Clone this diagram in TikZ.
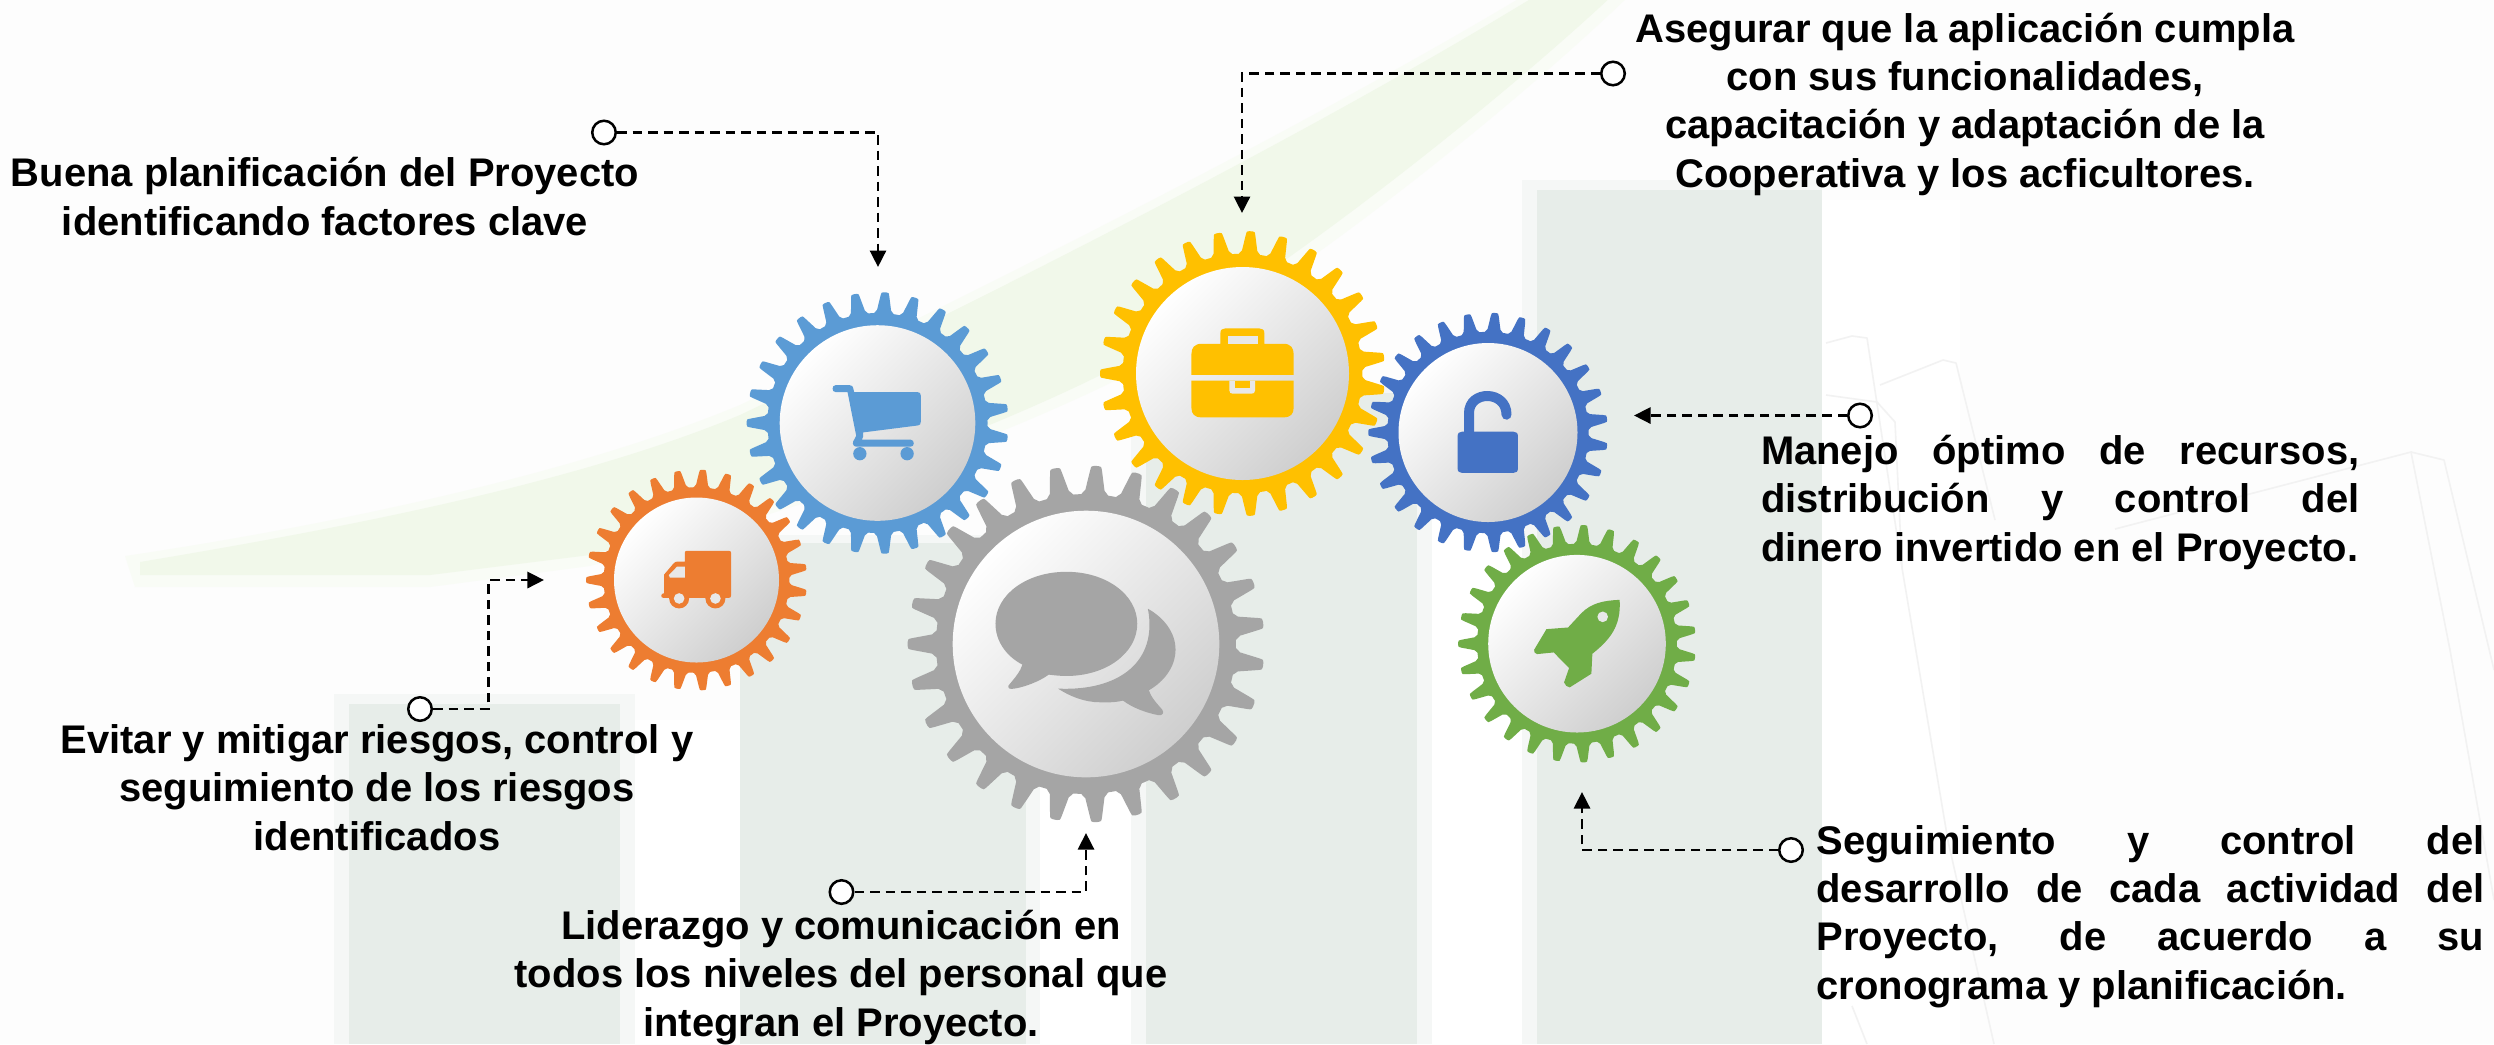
\documentclass[tikz,border=0pt]{standalone}
\usepackage{fontspec}
\setmainfont{Liberation Sans}[Ligatures=NoCommon]
\usetikzlibrary{arrows.meta}
\definecolor{bgc}{HTML}{FDFDFD}
\definecolor{barc}{HTML}{E7EDE9}
\definecolor{haloc}{HTML}{F5F7F6}
\definecolor{bandc}{HTML}{F1F8EA}
\definecolor{bandh}{HTML}{F9FCF6}
\definecolor{wirec}{HTML}{F2F2F2}
\definecolor{cBlue}{HTML}{5B9BD5}
\definecolor{cOrange}{HTML}{ED7D31}
\definecolor{cGray}{HTML}{A5A5A5}
\definecolor{cYellow}{HTML}{FFC000}
\definecolor{cNavy}{HTML}{4472C4}
\definecolor{cGreen}{HTML}{70AD47}
\definecolor{holec}{HTML}{E8E8E8}
\tikzset{
  lbl/.style={inner sep=0pt,outer sep=0pt,text=black,font=\bfseries\fontsize{11.36}{13.7}\selectfont},
  dot/.style={circle,draw=black,fill=white,line width=0.025cm,minimum size=0.235cm,inner sep=0pt},
  conn/.style={draw=black,line width=0.028cm,dash pattern=on 0.095cm off 0.06cm,-{Triangle[width=0.16cm,length=0.165cm]}},
  bar/.style={fill=barc},
  halo/.style={fill=haloc},
  wire/.style={draw=wirec,line width=0.016cm,line join=round},
}
\newcommand{\gearbody}[4]{%
  \begin{scope}[shift={(#1,#2)},x=#3*0.01cm,y=#3*0.01cm]
    \fill[#4] (0,0) circle (1.125);
    \foreach \k in {0,...,26}{
      \fill[#4,rotate={180+\k*13.3333}]
        (1.05,-0.105) -- (1.115,-0.105)
        .. controls (1.13,-0.095) and (1.14,-0.085) .. (1.155,-0.072)
        -- (1.30,-0.045) .. controls (1.335,-0.038) and (1.338,-0.036) .. (1.338,-0.016)
        -- (1.338,0.016) .. controls (1.338,0.036) and (1.335,0.038) .. (1.30,0.045)
        -- (1.155,0.072) .. controls (1.14,0.085) and (1.13,0.095) .. (1.115,0.105)
        -- (1.05,0.105) -- cycle;
    }
    \shade[top color=white,bottom color=black!19,shading angle=45] (0,0) circle (1);
  \end{scope}}
\begin{document}
\begin{tikzpicture}[x=0.01cm,y=-0.01cm]
\useasboundingbox (0,0) rectangle (2494,1044);
\fill[bgc] (0,0) rectangle (2494,1044);
% white gaps round the bars
\fill[white] (635,720) rectangle (740,1044);
\fill[white] (1040,560) rectangle (1131,1044);
\fill[white] (1432,400) rectangle (1522,1044);
\fill[white] (1822,200) rectangle (1960,1044);
% green band
\fill[bandh] (125,556) .. controls (300,530) and (560,480) .. (740,405)
  .. controls (960,300) and (1300,130) .. (1525,-5) -- (1630,-5)
  .. controls (1500,120) and (1250,320) .. (1085,395)
  .. controls (900,480) and (720,530) .. (590,566) -- (430,587) -- (135,587) -- cycle;
\fill[bandc] (140,562) .. controls (300,535) and (560,490) .. (740,415)
  .. controls (960,310) and (1300,140) .. (1537,-5) -- (1613,-5)
  .. controls (1490,110) and (1240,310) .. (1080,385)
  .. controls (900,470) and (720,520) .. (590,555) -- (430,575) -- (140,575) -- cycle;
% bars
\fill[halo] (334,694) rectangle (635,1044);
\fill[bar] (349,704) rectangle (620,1044);
\fill[halo] (740,535) rectangle (1040,1044);
\fill[bar] (740,543) rectangle (1026,1044);
\fill[halo] (1131,385) rectangle (1432,1044);
\fill[bar] (1146,393) rectangle (1417,1044);
\fill[halo] (1522,180) rectangle (1822,1044);
\fill[bar] (1537,190) rectangle (1822,1044);
% faint wire outline
\draw[wire] (1826,343) -- (1852,336) -- (1867,338) -- (1902,568) -- (1948,841) -- (1994,1044);
\draw[wire] (1880,385) -- (1943,360) -- (1956,363) -- (1995,520);
\draw[wire] (1826,395) -- (1877,402) -- (1895,422) -- (1902,568);
\draw[wire] (2115,529) -- (2411,452) -- (2444,460) -- (2494,670);
\draw[wire] (2411,452) -- (2450,650) -- (2494,900);
\draw[wire] (1852,1006) -- (1867,1044);
% gears
\gearbody{877.5}{423}{97.8}{cBlue}
\gearbody{696.5}{580}{82.5}{cOrange}
\gearbody{1488}{432.5}{89.5}{cNavy}
\gearbody{1242.5}{373.5}{106.5}{cYellow}
\gearbody{1577}{643.7}{88.8}{cGreen}
\gearbody{1086}{644}{133.3}{cGray}
% cart icon
\begin{scope}[shift={(560,260)},x=0.003333cm,y=-0.003333cm]
  \fill[cBlue] (828,376) -- (870,376) .. controls (878,376) and (880,380) .. (881,385) -- (884,397)
    -- (1074,397) .. controls (1081,397) and (1084,400) .. (1084,407) -- (1084,486)
    .. controls (1084,493) and (1082,496) .. (1076,497) -- (911,518) -- (911,530) -- (907,540)
    -- (1054,540) .. controls (1066,540) and (1066,561) .. (1054,561) -- (890,561)
    .. controls (878,561) and (878,545) .. (884,540) -- (890,528) -- (864,397) -- (828,397)
    .. controls (816,397) and (816,376) .. (828,376) -- cycle;
  \fill[cBlue] (901,582) circle (20) (1043,582) circle (20);
\end{scope}
% truck icon
\begin{scope}[shift={(560,260)},x=0.003333cm,y=-0.003333cm]
  \fill[cOrange] (375,880) .. controls (375,876) and (377,874) .. (381,874) -- (508,874)
    .. controls (512,874) and (514,876) .. (514,880) -- (514,1008) .. controls (514,1013) and (512,1015) .. (508,1015)
    -- (310,1015) .. controls (302,1015) and (302,1002) .. (313,1001) -- (313,945)
    -- (341,912) .. controls (345,908) and (348,906) .. (353,906) -- (375,906) -- cycle;
  \fill[cOrange] (358,1017) circle (30) (467,1017) circle (30);
  \fill[holec] (358,1017) circle (16) (467,1017) circle (16);
  \fill[holec] (375,921) -- (352,921) -- (327,947) -- (330,954) -- (375,954) -- cycle;
\end{scope}
% briefcase icon
\begin{scope}[shift={(1080,210)},x=0.0035714cm,y=-0.003333cm]
  \fill[cYellow] (393,402) -- (393,370) .. controls (393,360) and (398,356) .. (406,356) -- (503,356)
    .. controls (511,356) and (516,360) .. (516,370) -- (516,402)
    -- (570,402) .. controls (590,402) and (598,415) .. (598,432) -- (598,495) -- (312,495) -- (312,432)
    .. controls (312,415) and (320,402) .. (340,402) -- cycle;
  \fill[holec] (413,380) rectangle (497,402);
  \fill[cYellow] (312,513) -- (598,513) -- (598,595) .. controls (598,612) and (590,623) .. (570,623)
    -- (340,623) .. controls (320,623) and (312,612) .. (312,595) -- cycle;
  \fill[holec] (418,513) -- (490,513) -- (490,542) .. controls (490,549) and (486,552) .. (480,552)
    -- (428,552) .. controls (422,552) and (418,549) .. (418,542) -- cycle;
  \fill[cYellow] (434,513) rectangle (476,535);
\end{scope}
% lock icon
\begin{scope}[shift={(1080,210)},x=0.0035714cm,y=-0.003333cm]
  \draw[cNavy,line width=0.1cm,line cap=round] (1089,675) -- (1089,610)
    .. controls (1089,541) and (1194,541) .. (1194,615);
  \fill[cNavy] (1057,680) .. controls (1057,670) and (1062,666) .. (1070,666) -- (1213,666)
    .. controls (1221,666) and (1226,670) .. (1226,680) -- (1226,776)
    .. controls (1226,786) and (1221,790) .. (1213,790) -- (1070,790)
    .. controls (1062,790) and (1057,786) .. (1057,776) -- cycle;
\end{scope}
% rocket icon
\begin{scope}[shift={(1400,500)},x=0.003333cm,y=-0.003333cm]
  \fill[cGreen] (660,300) .. controls (610,302) and (575,310) .. (545,340) -- (505,383) -- (440,388)
    -- (403,450) .. controls (402,456) and (405,462) .. (412,463) -- (462,458) -- (508,505) -- (493,548)
    .. controls (496,556) and (502,563) .. (510,563) -- (575,522) -- (578,462)
    .. controls (630,420) and (665,380) .. (660,300) -- cycle;
  \fill[holec] (609,351) circle (16);
\end{scope}
% speech bubbles icon
\begin{scope}[shift={(880,440)},x=0.003333cm,y=-0.003333cm]
  \fill[cGray] (560,396) .. controls (680,396) and (773,465) .. (773,552)
    .. controls (773,640) and (680,709) .. (560,709)
    .. controls (540,709) and (525,707) .. (507,705)
    .. controls (480,725) and (430,745) .. (395,748)
    .. controls (385,748) and (382,740) .. (390,733)
    .. controls (405,715) and (422,695) .. (428,675)
    .. controls (380,650) and (347,605) .. (347,552)
    .. controls (347,465) and (440,396) .. (560,396) -- cycle;
  \fill[cGray] (805,507) .. controls (855,535) and (888,580) .. (888,630)
    .. controls (888,680) and (855,725) .. (808,752)
    .. controls (815,775) and (835,795) .. (848,810)
    .. controls (855,820) and (848,828) .. (838,827)
    .. controls (800,820) and (760,805) .. (730,783)
    .. controls (700,790) and (680,788) .. (660,788)
    .. controls (615,788) and (570,770) .. (535,747)
    .. controls (720,755) and (835,665) .. (805,507) -- cycle;
\end{scope}
% connector ends
\node[dot] (c1) at (604,132.5) {};
\node[dot] (c2) at (1613,73.5) {};
\node[dot] (c3) at (1860,415.5) {};
\node[dot] (c4) at (1791,850) {};
\node[dot] (c5) at (841.5,892) {};
\node[dot] (c6) at (420,709) {};
\coordinate (t1) at (878,267);
\coordinate (t2) at (1242,213);
\coordinate (t3) at (1634,415.5);
\coordinate (t4) at (1582,792);
\coordinate (t5) at (1086,833);
\coordinate (t6) at (544,580);
\coordinate (k6) at (488.5,709);
\draw[conn] (c1.east) -| (t1);
\draw[conn] (c2.west) -| (t2);
\draw[conn] (c3.west) -- (t3);
\draw[conn] (c4.west) -| (t4);
\draw[conn] (c5.east) -| (t5);
\draw[conn] (c6.east) -- (k6) |- (t6);
% labels
\node[lbl,align=center,anchor=base] (l1) at (325,235) {Buena planificación del Proyecto\\identificando factores clave};
\node[lbl,align=center,anchor=base] (l2) at (1965,187) {Asegurar que la aplicación cumpla\\con sus funcionalidades,\\capacitación y adaptación de la\\Cooperativa y los acficultores.};
\node[lbl,align=left,anchor=base west] (l3) at (1761,561) {\makebox[5.98cm][s]{Manejo óptimo de recursos,}\\\makebox[5.98cm][s]{distribución y control del}\\dinero invertido en el Proyecto.};
\node[lbl,align=left,anchor=base west] (l4) at (1816.5,999) {\makebox[6.675cm][s]{Seguimiento y control del}\\\makebox[6.675cm][s]{desarrollo de cada actividad del}\\\makebox[6.675cm][s]{Proyecto, de acuerdo a su}\\cronograma y planificación.};
\node[lbl,align=center,anchor=base] (l5) at (377,850) {Evitar y mitigar riesgos, control y\\seguimiento de los riesgos\\identificados};
\node[lbl,align=center,anchor=base] (l6) at (841,1036) {Liderazgo y comunicación en\\todos los niveles del personal que\\integran el Proyecto.};
\end{tikzpicture}
\end{document}
